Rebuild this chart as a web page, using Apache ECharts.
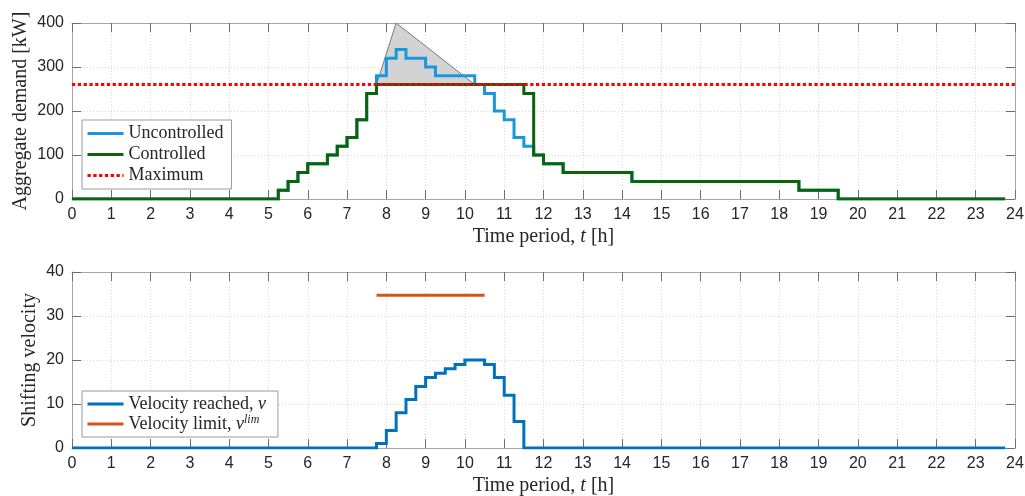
<!DOCTYPE html>
<html>
<head>
<meta charset="utf-8">
<script src="https://cdn.jsdelivr.net/npm/echarts@6/dist/echarts.min.js"></script>
<style>
html,body{margin:0;padding:0;background:#fff;}
#c{width:1025px;height:496px;}
</style>
</head>
<body>
<div id="c"></div>
<script>
// ---- Data ----
// time steps: 15-minute periods, 0 .. 23.75 h
const timeH = Array.from({length: 96}, (_, i) => i * 0.25);
const xTicks = [0,1,2,3,4,5,6,7,8,9,10,11,12,13,14,15,16,17,18,19,20,21,22,23,24];

const uncontrolled = [
  0,0,0,0,0,0,0,0,0,0,0,0,0,0,0,0,0,0,0,0,0,
  20,40,60,80,80,100,120,140,180,240,
  280,320,340,320,320,300,280,280,280,280,260,240,200,180,140,120,
  100,80,80,
  60,60,60,60,60,60,60,
  40,40,40,40,40,40,40,40,40,40,40,40,40,40,40,40,40,
  20,20,20,20,
  0,0,0,0,0,0,0,0,0,0,0,0,0,0,0,0,0,0
];
const controlled = [
  0,0,0,0,0,0,0,0,0,0,0,0,0,0,0,0,0,0,0,0,0,
  20,40,60,80,80,100,120,140,180,240,
  260,260,260,260,260,260,260,260,260,260,260,260,260,260,260,
  240,100,80,80,
  60,60,60,60,60,60,60,
  40,40,40,40,40,40,40,40,40,40,40,40,40,40,40,40,40,
  20,20,20,20,
  0,0,0,0,0,0,0,0,0,0,0,0,0,0,0,0,0,0
];
const maxT = [0, 24];
const maxV = [260, 260];
const triT = [7.75, 8.25, 10.25];
const triV = [260, 400, 260];

const velocity = [
  0,0,0,0,0,0,0,0,0,0,0,0,0,0,0,0,0,0,0,0,0,0,0,0,0,0,0,0,0,0,0,
  1,4,8,11,14,16,17,18,19,20,20,19,16,12,6,
  0,0,0,0,0,0,0,0,0,0,0,0,0,0,0,0,0,0,0,0,0,0,0,0,0,
  0,0,0,0,0,0,0,0,0,0,0,0,0,0,0,0,0,0,0,0,0,0,0,0,0
];
const limT = [7.75, 10.5];
const limV = [34.7, 34.7];

const topYTicks = [0,100,200,300,400];
const botYTicks = [0,10,20,30,40];

// ---- Styles ----
const SERIF = 'Liberation Serif';
const SANS = 'Liberation Sans';
const FRAME = '#a6a6a6';
const TICK = '#6e6e6e';
const LABEL = '#262626';

function pairs(xs, ys){ return ys.map((v,i)=>[xs[i], v]); }

function xAx(gi, pos, showLabels){
  return {
    type:'value', gridIndex: gi, position: pos, min: xTicks[0], max: xTicks[xTicks.length-1], interval: 1,
    axisLine:{show:true, onZero:false, lineStyle:{color:FRAME, width:1}},
    axisTick:{show:true, inside:true, length:9, lineStyle:{color:TICK, width:1}},
    axisLabel:{show:showLabels, margin:8, color:LABEL, fontFamily:SANS, fontSize:16},
    splitLine:{show: showLabels, lineStyle:{color:'#d9d9d9', width:1, type:[1,2]}},
    name: showLabels ? '{r|Time period, }{i|t}{r| [h]}' : '',
    nameLocation:'middle', nameGap: 28, nameMoveOverlap:false,
    nameTextStyle:{fontFamily:SERIF, fontSize:20, color:LABEL,
      rich:{r:{fontFamily:SERIF, fontSize:20, color:LABEL}, i:{fontFamily:SERIF, fontStyle:'italic', fontSize:20, color:LABEL}}}
  };
}
function yAx(gi, pos, showLabels, mx, iv, name, gap){
  return {
    type:'value', gridIndex: gi, position: pos, min:0, max:mx, interval:iv,
    axisLine:{show:true, onZero:false, lineStyle:{color:FRAME, width:1}},
    axisTick:{show:true, inside:true, length:9, lineStyle:{color:TICK, width:1}},
    axisLabel:{show:showLabels, margin:8, color:LABEL, fontFamily:SANS, fontSize:16},
    splitLine:{show: showLabels, lineStyle:{color:'#d9d9d9', width:1, type:[1,2]}},
    name: showLabels ? name : '', nameLocation:'middle', nameGap: gap, nameRotate: 90, nameMoveOverlap:false,
    nameTextStyle:{fontFamily:SERIF, fontSize:20, color:LABEL}
  };
}

const chart = echarts.init(document.getElementById('c'), null, {renderer:'canvas'});
const option = {
  animation:false,
  backgroundColor:'#fff',
  grid:[
    {left:72, right:10, top:23, height:176, outerBoundsMode:'none', containLabel:false},
    {left:72, right:10, top:272, height:176, outerBoundsMode:'none', containLabel:false}
  ],
  xAxis:[ xAx(0,'bottom',true), xAx(0,'top',false), xAx(1,'bottom',true), xAx(1,'top',false) ],
  yAxis:[
    yAx(0,'left',true,400,100,'Aggregate demand [kW]',41),
    yAx(0,'right',false,400,100,'',0),
    yAx(1,'left',true,40,10,'Shifting velocity',32),
    yAx(1,'right',false,40,10,'',0)
  ],
  legend:[
    {
      data:['Uncontrolled','Controlled','Maximum'],
      orient:'vertical', left:82, top:120, itemWidth:36, itemHeight:14, itemGap:0,
      itemStyle:{opacity:0}, lineStyle:{width:3},
      padding:[3,8,3,4], backgroundColor:'#fff', borderColor:'#9a9a9a', borderWidth:1, borderRadius:0,
      textStyle:{fontFamily:SERIF, fontSize:18, color:LABEL, lineHeight:21},
      selectedMode:false
    },
    {
      data:['reached','limit'],
      orient:'vertical', left:82, top:391, itemWidth:36, itemHeight:14, itemGap:0,
      itemStyle:{opacity:0}, lineStyle:{width:3},
      padding:[3,12,3,4], backgroundColor:'#fff', borderColor:'#9a9a9a', borderWidth:1, borderRadius:0,
      formatter: n => n === 'reached' ? '{r|Velocity reached, }{i|v}' : '{r|Velocity limit, }{i|v}{s|lim}',
      textStyle:{fontFamily:SERIF, fontSize:18, color:LABEL, lineHeight:20,
        rich:{
          r:{fontFamily:SERIF, fontSize:18, color:LABEL, lineHeight:20},
          i:{fontFamily:SERIF, fontStyle:'italic', fontSize:18, color:LABEL, lineHeight:20},
          s:{fontFamily:SERIF, fontStyle:'italic', fontSize:12, color:LABEL, lineHeight:20, verticalAlign:'top', padding:[0,0,4,0]}
        }},
      selectedMode:false
    }
  ],
  series:[
    {
      type:'custom', xAxisIndex:0, yAxisIndex:0, z:1, silent:true,
      data:[0],
      renderItem:(params, api) => {
        const pts = triT.map((t,i)=>api.coord([t, triV[i]]));
        return {type:'polygon', shape:{points:pts}, style:{fill:'#d3d3d3', stroke:'#7a7a7a', lineWidth:1}};
      }
    },
    {
      name:'Uncontrolled', type:'line', xAxisIndex:0, yAxisIndex:0, step:'end', symbol:'none', z:2,
      data: pairs(timeH, uncontrolled),
      lineStyle:{color:'#1a96dc', width:3, join:'miter'}, itemStyle:{color:'#1a96dc'}
    },
    {
      name:'Controlled', type:'line', xAxisIndex:0, yAxisIndex:0, step:'end', symbol:'none', z:3,
      data: pairs(timeH, controlled),
      lineStyle:{color:'#0a640a', width:3, join:'miter'}, itemStyle:{color:'#0a640a'}
    },
    {
      name:'Maximum', type:'line', xAxisIndex:0, yAxisIndex:0, symbol:'none', z:4,
      data: pairs(maxT, maxV),
      lineStyle:{color:'#ff0000', width:3, type:[3.3,2.5], cap:'butt'}, itemStyle:{color:'#ff0000'}
    },
    {
      name:'reached', type:'line', xAxisIndex:2, yAxisIndex:2, step:'end', symbol:'none', z:3,
      data: pairs(timeH, velocity),
      lineStyle:{color:'#0072bd', width:3, join:'miter'}, itemStyle:{color:'#0072bd'}
    },
    {
      name:'limit', type:'line', xAxisIndex:2, yAxisIndex:2, symbol:'none', z:3,
      data: pairs(limT, limV),
      lineStyle:{color:'#d95319', width:3}, itemStyle:{color:'#d95319'}
    }
  ]
};
chart.setOption(option);
</script>
</body>
</html>
